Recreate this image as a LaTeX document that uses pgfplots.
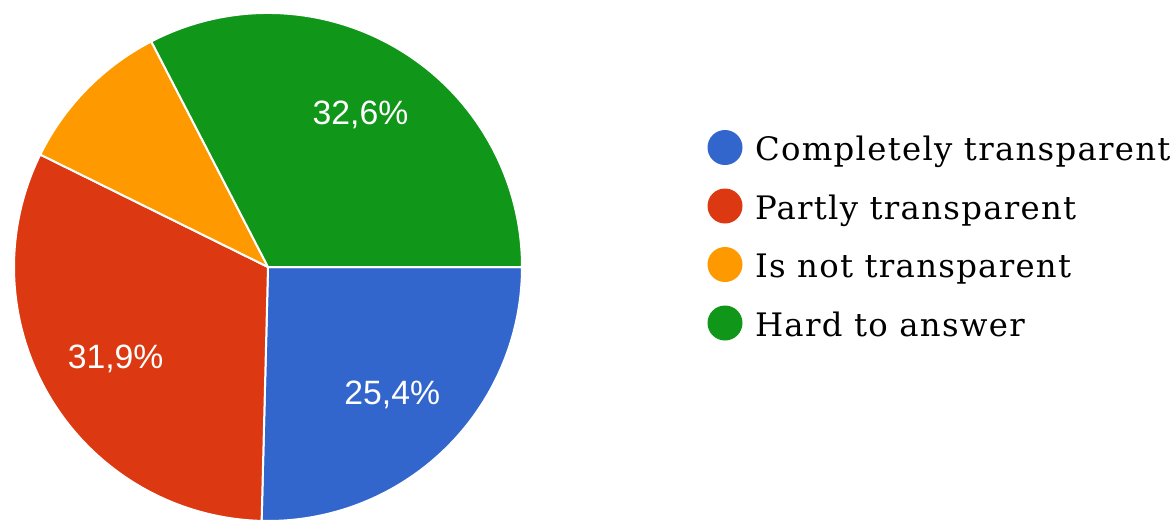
\documentclass[border=0pt]{standalone}
\usepackage{fontspec}
\usepackage{pgfplots}
\usepackage{pgfplotstable}
\pgfplotsset{compat=1.18}
\newfontfamily\legendfont[LetterSpace=4]{DejaVu Serif}
\newfontfamily\pctfont{Liberation Sans}

\definecolor{pieblue}{HTML}{3366CC}
\definecolor{piered}{HTML}{DC3912}
\definecolor{pieorange}{HTML}{FF9900}
\definecolor{piegreen}{HTML}{109618}

% slices clockwise from 3 o'clock
\pgfplotstableread[col sep=comma]{
label,value,color
Completely transparent,25.4,pieblue
Partly transparent,31.9,piered
Is not transparent,10.1,pieorange
Hard to answer,32.6,piegreen
}\piedata

\pgfplotsset{pie legend/.style={legend image code/.code={\fill[##1, draw=none] (0mm,0.3mm) circle[radius=1.75mm];}}}

\begin{document}
\begin{tikzpicture}
\begin{axis}[
    scale only axis,
    width=11.75cm, height=5.2cm,
    xmin=0, xmax=1175, ymin=0, ymax=520,
    axis line style={draw=none},
    ticks=none,
    legend style={at={(axis cs:707.5,390)}, anchor=north west, draw=none, fill=none,
        inner sep=0pt, outer sep=0pt, row sep=2mm, column sep=1.25mm,
        font=\legendfont\fontsize{9.2pt}{11pt}\selectfont,
        nodes={inner sep=0pt, text height=2.8mm, text depth=0.8mm}},
    legend cell align=left,
]
\pgfplotsextra{
  \gdef\angA{0}
  \foreach \i in {0,...,3} {
    \pgfplotstablegetelem{\i}{value}\of\piedata \let\val\pgfplotsretval
    \pgfplotstablegetelem{\i}{color}\of\piedata \let\col\pgfplotsretval
    \pgfmathsetmacro\angB{\angA-3.6*\val}
    \pgfmathsetmacro\angM{(\angA+\angB)/2}
    \fill[fill=\col, draw=white, line width=0.2mm, line join=round]
      (axis cs:268,253) -- ++(\angA:2.54cm) arc[start angle=\angA, end angle=\angB, radius=2.54cm] -- cycle;
    \ifdim\val pt>15pt
      \path (axis cs:268,253) ++(\angM:1.78cm) node[text=white, font=\pctfont\fontsize{9.6pt}{11pt}\selectfont]
        {\pgfmathprintnumber[fixed, precision=1, fixed zerofill, use comma, assume math mode=true]{\val}\%};
    \fi
    \xdef\angA{\angB}
  }
}
\addlegendimage{pie legend, fill=pieblue}
\addlegendentry{Completely transparent}
\addlegendimage{pie legend, fill=piered}
\addlegendentry{Partly transparent}
\addlegendimage{pie legend, fill=pieorange}
\addlegendentry{Is not transparent}
\addlegendimage{pie legend, fill=piegreen}
\addlegendentry{Hard to answer}
\end{axis}
\end{tikzpicture}
\end{document}
